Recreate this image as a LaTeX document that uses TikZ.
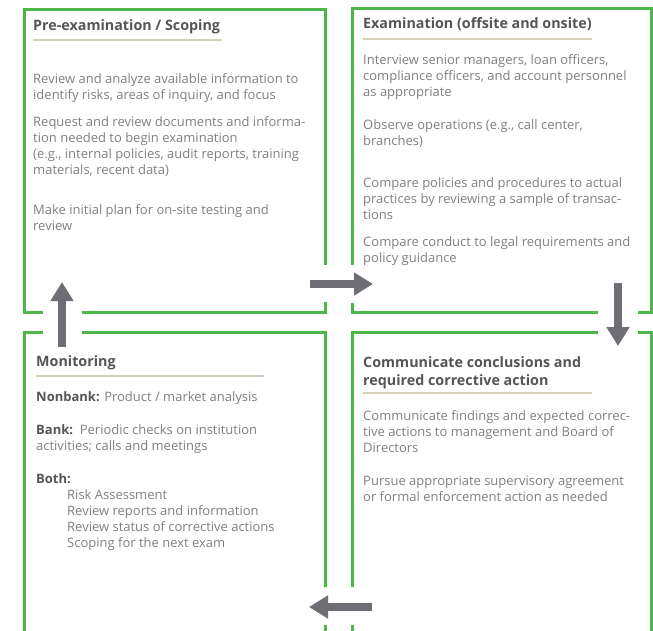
\documentclass[tikz,border=0pt]{standalone}
\usepackage{fontspec}
\setmainfont{Open Sans}
\usetikzlibrary{arrows.meta}
\definecolor{boxgreen}{HTML}{4DB848}
\definecolor{arrowgray}{HTML}{6E6E74}
\definecolor{headgray}{HTML}{555555}
\definecolor{txtgray}{HTML}{7F7F7F}
\definecolor{rulebeige}{HTML}{D6D0BC}
\tikzset{
  frame/.style={draw=boxgreen, line width=3pt},
  flow/.style={draw=arrowgray, line width=8pt, -{Triangle[width=22pt,length=19pt]}},
  heading/.style={anchor=north west, inner sep=0pt, align=left, text=headgray,
    font=\fontsize{14.3}{18.5}\selectfont\bfseries},
  body/.style={anchor=north west, inner sep=0pt, align=left, text=txtgray,
    font=\fontsize{13}{16}\selectfont},
  underline/.style={draw=rulebeige, line width=1.2pt}
}
\begin{document}
\begin{tikzpicture}[x=1pt, y=-1pt]
    \useasboundingbox (0,0) rectangle (653,630);

    % frames
    \draw[frame] (43,312) -- (24,312) -- (24,9) -- (325,9) -- (325,265);
    \draw[frame] (325,302) -- (325,312) -- (82,312);
    \draw[frame] (352,265) -- (352,8) -- (651,8) -- (651,312) -- (638,312);
    \draw[frame] (598,312) -- (352,312) -- (352,303);
    \draw[frame] (43,332) -- (24,332) -- (24,632);
    \draw[frame] (82,332) -- (325,332) -- (325,587);
    \draw[frame] (325,625) -- (325,632);
    \draw[frame] (598,332) -- (352,332) -- (352,587);
    \draw[frame] (352,625) -- (352,632);
    \draw[frame] (638,332) -- (651,332) -- (651,632);

    % pre-examination
    \node (preT) at (33,19) [heading] {Pre-examination / Scoping};
    \draw[underline] (33,40) -- (222,40);
    \node (preA) at (33,73) [body] {Review and analyze available information to\\identify risks, areas of inquiry, and focus};
    \node (preB) at (33,116) [body] {Request and review documents and informa-\\tion needed to begin examination\\(e.g., internal policies, audit reports, training\\materials, recent data)};
    \node (preC) at (33,204) [body] {Make initial plan for on-site testing and\\review};

    % examination
    \node (examT) at (363,17) [heading] {Examination (offsite and onsite)};
    \draw[underline] (363,39) -- (592,39);
    \node (examA) at (363,54) [body] {Interview senior managers, loan officers,\\compliance officers, and account personnel\\as appropriate};
    \node (examB) at (363,119) [body] {Observe operations (e.g., call center,\\branches)};
    \node (examC) at (363,177) [body] {Compare policies and procedures to actual\\practices by reviewing a sample of transac-\\tions};
    \node (examD) at (363,236) [body] {Compare conduct to legal requirements and\\policy guidance};

    % communicate
    \node (commT) at (363,356) [heading] {Communicate conclusions and\\required corrective action};
    \draw[underline] (363,393) -- (592,393);
    \node (commA) at (363,410) [body] {Communicate findings and expected correc-\\tive actions to management and Board of\\Directors};
    \node (commB) at (363,476) [body] {Pursue appropriate supervisory agreement\\or formal enforcement action as needed};

    % monitoring
    \node (monT) at (36,355) [heading] {Monitoring};
    \draw[underline] (36,376) -- (264,376);
    \node (monA) at (36,391) [body] {\textbf{\color{headgray}Nonbank:} Product / market analysis};
    \node (monB) at (36,424) [body] {\textbf{\color{headgray}Bank:}\ \ Periodic checks on institution\\activities; calls and meetings};
    \node (monC) at (36,473) [body] {\textbf{\color{headgray}Both:}\\\hspace*{31pt}Risk Assessment\\\hspace*{31pt}Review reports and information\\\hspace*{31pt}Review status of corrective actions\\\hspace*{31pt}Scoping for the next exam};

    % arrows
    \coordinate (r0) at (310,284);
    \coordinate (r1) at (373,284);
    \coordinate (d0) at (618,283);
    \coordinate (d1) at (618,346);
    \coordinate (l0) at (372,607);
    \coordinate (l1) at (309,607);
    \coordinate (u0) at (62,347);
    \coordinate (u1) at (62,282);
    \draw[flow] (r0) -- (r1);
    \draw[flow] (d0) -- (d1);
    \draw[flow] (l0) -- (l1);
    \draw[flow] (u0) -- (u1);

\end{tikzpicture}
\end{document}
